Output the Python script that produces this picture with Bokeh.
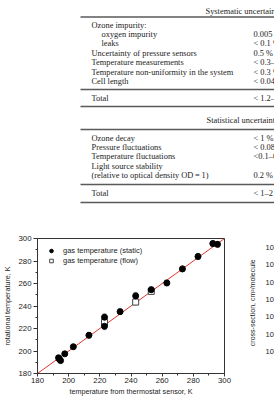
from bokeh.plotting import figure
from bokeh.layouts import column, row
from bokeh.models import (Range1d, FixedTicker, Whisker, TeeHead, ColumnDataSource,
                          Legend, LegendItem)
from bokeh.core.properties import value
from bokeh.embed import file_html
from bokeh.resources import INLINE
import math

SERIF = "Liberation Serif"
SANS = "Liberation Sans"

# ---------------- uncertainty budget table ----------------
sys_header = "Systematic uncertainty"
sys_labels = ["Ozone impurity:", "oxygen impurity", "leaks",
              "Uncertainty of pressure sensors", "Temperature measurements",
              "Temperature non-uniformity in the system", "Cell length"]
sys_values = ["", "0.005 %", "< 0.1 %", "0.5 %", "< 0.3\u20130.5 %", "< 0.3 %", "< 0.04 %"]
sys_indent = [0, 1, 1, 0, 0, 0, 0]
sys_total = "< 1.2\u20132 %"

stat_header = "Statistical uncertainty"
stat_labels = ["Ozone decay", "Pressure fluctuations", "Temperature fluctuations",
               "Light source stability", "(relative to optical density OD\u2009=\u20091)"]
stat_values = ["< 1 %", "< 0.08 %", "<0.1\u20130.3 %", "", "0.2 %"]
stat_total = "< 1\u20132 %"
total_label = "Total"

# ---------------- temperature comparison ----------------
static_x = [193.5, 194.0, 194.8, 197.5, 203.0, 213.0, 223.0, 223.0, 233.0,
            243.0, 253.0, 263.0, 273.0, 283.0, 292.5, 295.5]
static_y = [194.0, 192.8, 191.5, 197.5, 203.8, 214.0, 230.0, 222.0, 235.0,
            249.0, 254.5, 260.5, 273.0, 284.0, 295.5, 294.8]
static_err = [2.0, 2.0, 2.0, 2.0, 2.0, 2.5, 3.0, 3.0, 2.5,
              3.0, 2.5, 2.5, 2.5, 2.5, 2.5, 2.5]
flow_x = [223.0, 243.0, 253.0]
flow_y = [225.5, 243.5, 253.0]
flow_err = [2.5, 2.5, 2.5]
fit_x = [180.0, 300.0]
fit_y = [180.0, 300.0]

x_ticks = [180, 200, 220, 240, 260, 280, 300]
x_minor = [190, 210, 230, 250, 270, 290]
y_ticks = [180, 200, 220, 240, 260, 280, 300]
y_minor = [190, 210, 230, 250, 270, 290]

side_tick_labels = ["10", "10", "10", "10", "10", "10", "10"]
side_axis_title = "cross-section, cm\u00b2/molecule"

# ---------------- table figure (page pixel coordinates) ----------------
TW, TH = 274, 230
tbl = figure(width=TW, height=TH, x_range=Range1d(0, TW), y_range=Range1d(TH, 0),
             x_axis_location=None, y_axis_location=None, min_border=0,
             output_backend="svg", toolbar_location=None)
tbl.grid.visible = False
tbl.outline_line_color = None

x_left, x_indent, x_val, x_rule = 91, 101, 253, 80
tx, ty, tt = [], [], []

def put(x, y, s):
    if s:
        tx.append(x); ty.append(y); tt.append(s)

rules = []
put(205, 11, sys_header)
rules.append(16.5)
y0, pitch0 = 24.5, 9.4
for i, (lab, val, ind) in enumerate(zip(sys_labels, sys_values, sys_indent)):
    y = y0 + i * pitch0
    put(x_indent if ind else x_left, y, lab)
    put(x_val, y, val)
rules.append(89)
put(x_left, 97.5, total_label)
put(x_val, 97.5, sys_total)
rules.append(106)
put(206, 119.5, stat_header)
rules.append(129)
y1, pitch1 = 138, 9.2
for i, (lab, val) in enumerate(zip(stat_labels, stat_values)):
    y = y1 + i * pitch1
    put(x_left, y, lab)
    put(x_val, y, val)
rules.append(184)
put(x_left, 193, total_label)
put(x_val, 193, stat_total)
rules.append(202)

tbl.text(x=tx, y=ty, text=tt, text_font=value(SERIF), text_font_size="8.4px",
         text_baseline="middle", text_align="left", text_color="#1c1c1c")
tbl.segment(x0=[x_rule] * len(rules), y0=rules, x1=[TW] * len(rules), y1=rules,
            line_color="#5a5a5a", line_width=1.6)

# ---------------- chart ----------------
p = figure(width=244, height=168, x_range=Range1d(180, 300), y_range=Range1d(180, 300),
           min_border_left=33, min_border_right=20, min_border_top=8, min_border_bottom=22,
           output_backend="svg", toolbar_location=None)
p.grid.visible = False
p.outline_line_color = "#333333"
p.outline_line_width = 1
p.background_fill_color = "white"

for ax, ticks, minor in ((p.xaxis, x_ticks, x_minor), (p.yaxis, y_ticks, y_minor)):
    ax.ticker = FixedTicker(ticks=ticks, minor_ticks=minor)
    ax.major_label_text_font = SANS
    ax.major_label_text_font_size = "7.8px"
    ax.major_label_text_color = "#222222"
    ax.axis_label_text_font = SANS
    ax.axis_label_text_font_size = "7.2px"
    ax.axis_label_text_font_style = "normal"
    ax.axis_label_text_color = "#222222"
    ax.axis_line_color = "#333333"
    ax.major_tick_line_color = "#333333"
    ax.minor_tick_line_color = "#333333"
    ax.major_tick_in = 0
    ax.minor_tick_in = 0
    ax.minor_tick_out = 2

p.xaxis.axis_label = "temperature from thermostat sensor, K"
p.xaxis.major_tick_out = 3
p.xaxis.major_label_standoff = 1
p.xaxis.axis_label_standoff = 1
p.yaxis.axis_label = "rotational temperature, K"
p.yaxis.major_tick_out = 4
p.yaxis.major_label_standoff = 2
p.yaxis.axis_label_standoff = 3

p.line(fit_x, fit_y, line_color="#e3342c", line_width=1)

def add_errors(xs, ys, es):
    src = ColumnDataSource(dict(x=xs, lower=[y - e for y, e in zip(ys, es)],
                                upper=[y + e for y, e in zip(ys, es)]))
    p.add_layout(Whisker(base="x", lower="lower", upper="upper", source=src,
                         line_color="#9a9a9a", line_width=1,
                         upper_head=TeeHead(size=4, line_color="#9a9a9a"),
                         lower_head=TeeHead(size=4, line_color="#9a9a9a")))

add_errors(static_x, static_y, static_err)
add_errors(flow_x, flow_y, flow_err)

r_flow = p.scatter(flow_x, flow_y, marker="square", size=6, fill_color="white",
                   line_color="#444444", line_width=1)
r_static = p.scatter(static_x, static_y, marker="circle", size=6,
                     fill_color="black", line_color="black")

legend = Legend(items=[LegendItem(label="gas temperature (static)", renderers=[r_static]),
                       LegendItem(label="gas temperature (flow)", renderers=[r_flow])],
                location="top_left", border_line_color=None, background_fill_alpha=0,
                label_text_font=SANS, label_text_font_size="7.5px",
                label_text_color="#222222", glyph_width=12, glyph_height=9,
                label_height=9, spacing=1, padding=2, margin=8, label_standoff=6)
p.add_layout(legend)

# ---------------- neighbouring panel edge (page pixel coordinates) ----------------
side = figure(width=30, height=168, x_range=Range1d(244, 274), y_range=Range1d(398, 230),
              x_axis_location=None, y_axis_location=None, min_border=0,
              output_backend="svg", toolbar_location=None)
side.grid.visible = False
side.outline_line_color = None
side_y = [241 + i * 21.6 for i in range(len(side_tick_labels))]
side.text(x=[265] * len(side_tick_labels), y=side_y, text=side_tick_labels,
          text_font=value(SANS), text_font_size="7.5px", text_baseline="middle",
          text_align="left", text_color="#222222")
side.text(x=[252], y=[310], text=[side_axis_title], angle=math.pi / 2,
          text_font=value(SANS), text_font_size="7px", text_baseline="middle",
          text_align="center", text_color="#222222")

page = column(tbl, row(p, side))
open("out.html", "w").write(file_html(page, INLINE))
